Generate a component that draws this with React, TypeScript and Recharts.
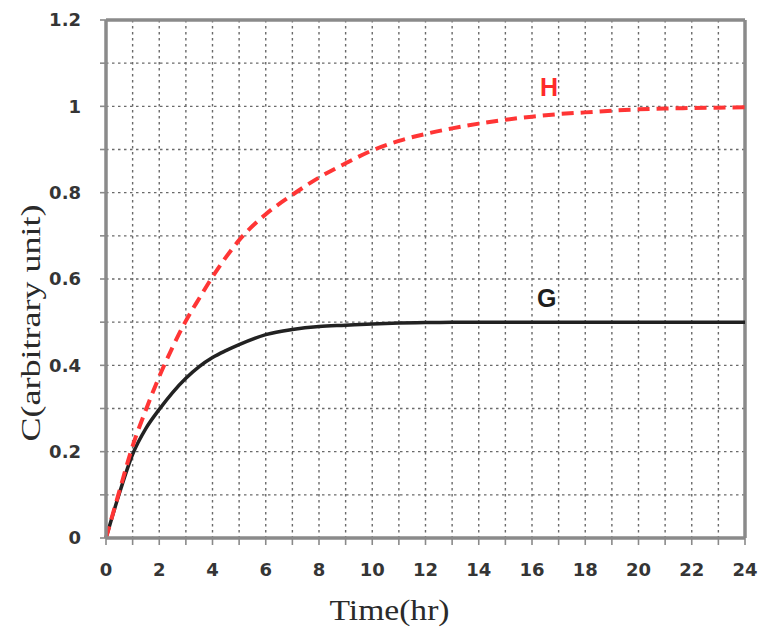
import React from 'react';
import {
  LineChart,
  Line,
  XAxis,
  YAxis,
  CartesianGrid,
  ReferenceLine,
  ReferenceDot,
} from 'recharts';

const times = [0, 0.5, 1, 1.5, 2, 2.5, 3, 3.5, 4, 4.5, 5, 6, 7, 8, 9, 10, 11, 12, 13, 14, 15, 16, 17, 18, 19, 20, 21, 22, 23, 24];
const hValues = [0, 0.108, 0.213, 0.297, 0.374, 0.442, 0.503, 0.555, 0.605, 0.65, 0.69, 0.75, 0.795, 0.835, 0.868, 0.898, 0.92, 0.936, 0.949, 0.96, 0.969, 0.976, 0.982, 0.986, 0.99, 0.993, 0.995, 0.996, 0.997, 0.998];
const gValues = [0, 0.103, 0.194, 0.254, 0.298, 0.337, 0.37, 0.397, 0.418, 0.434, 0.448, 0.471, 0.483, 0.49, 0.493, 0.496, 0.498, 0.499, 0.5, 0.5, 0.5, 0.5, 0.5, 0.5, 0.5, 0.5, 0.5, 0.5, 0.5, 0.5];

const xTicks = [0, 1, 2, 3, 4, 5, 6, 7, 8, 9, 10, 11, 12, 13, 14, 15, 16, 17, 18, 19, 20, 21, 22, 23, 24];
const yTicks = [0, 0.1, 0.2, 0.3, 0.4, 0.5, 0.6, 0.7, 0.8, 0.9, 1, 1.1, 1.2];

const data = times.map((t, i) => ({ t, H: hValues[i], G: gValues[i] }));

const tickFont = {
  fontFamily: 'DejaVu Sans, Verdana, sans-serif',
  fontWeight: 700,
  fontSize: 18,
  fill: '#353535',
};

const axisGray = '#8a8a8a';

export default function App() {
  return (
    <div style={{ position: 'absolute', left: 0, top: 0, background: '#fff' }}>
      <LineChart
        width={770}
        height={629}
        data={data}
        margin={{ top: 20, right: 25, left: 0, bottom: 0 }}
      >
        <CartesianGrid stroke="#6a6a6a" strokeWidth={1.4} strokeDasharray="2.5 3.5" />
        <XAxis
          dataKey="t"
          type="number"
          domain={[0, 24]}
          ticks={xTicks}
          interval={0}
          height={91}
          stroke={axisGray}
          strokeWidth={3.5}
          tickLine={{ stroke: axisGray, strokeWidth: 1.6 }}
          tickSize={7}
          tickMargin={18}
          tick={tickFont}
          tickFormatter={(v: number) => (v % 2 === 0 ? String(v) : '')}
          label={{
            content: (props: any) => {
              const vb = props.viewBox || {};
              const cx = vb.x + vb.width / 2 - 36;
              return (
                <text
                  x={cx}
                  y={620}
                  textAnchor="middle"
                  fontFamily="Liberation Serif, Times New Roman, serif"
                  fontSize={30}
                  fill="#2a2a2a"
                  textLength={120}
                  lengthAdjust="spacingAndGlyphs"
                >
                  Time(hr)
                </text>
              );
            },
          }}
        />
        <YAxis
          type="number"
          domain={[0, 1.2]}
          ticks={yTicks}
          interval={0}
          width={106}
          stroke={axisGray}
          strokeWidth={3.5}
          tickLine={{ stroke: axisGray, strokeWidth: 1.6 }}
          tickSize={6}
          tickMargin={19}
          tick={tickFont}
          tickFormatter={(v: number) => {
            const k = Math.round(v * 10);
            if (k % 2 !== 0) return '';
            return k % 10 === 0 ? String(k / 10) : (k / 10).toFixed(1);
          }}
          label={{
            content: () => (
              <text
                x={40}
                y={323}
                transform="rotate(-90, 40, 323)"
                textAnchor="middle"
                fontFamily="Liberation Serif, Times New Roman, serif"
                fontSize={28}
                fill="#2a2a2a"
                textLength={237}
                lengthAdjust="spacingAndGlyphs"
              >
                C(arbitrary unit)
              </text>
            ),
          }}
        />
        <ReferenceLine y={1.2} stroke={axisGray} strokeWidth={3.5} />
        <ReferenceLine x={24} stroke={axisGray} strokeWidth={3.5} />
        <Line
          type="monotone"
          dataKey="G"
          stroke="#222222"
          strokeWidth={3.5}
          dot={false}
          isAnimationActive={false}
        />
        <Line
          type="monotone"
          dataKey="H"
          stroke="#ff3535"
          strokeWidth={4}
          strokeDasharray="12 7"
          dot={false}
          isAnimationActive={false}
        />
        <ReferenceDot
          x={16.64}
          y={1.045}
          r={0}
          stroke="none"
          label={{
            value: 'H',
            position: 'center',
            fill: '#ff2a2a',
            fontSize: 25,
            fontWeight: 700,
            fontFamily: 'Liberation Sans, Arial, sans-serif',
          }}
        />
        <ReferenceDot
          x={16.55}
          y={0.555}
          r={0}
          stroke="none"
          label={{
            value: 'G',
            position: 'center',
            fill: '#1e1e1e',
            fontSize: 25,
            fontWeight: 700,
            fontFamily: 'Liberation Sans, Arial, sans-serif',
          }}
        />
      </LineChart>
    </div>
  );
}
